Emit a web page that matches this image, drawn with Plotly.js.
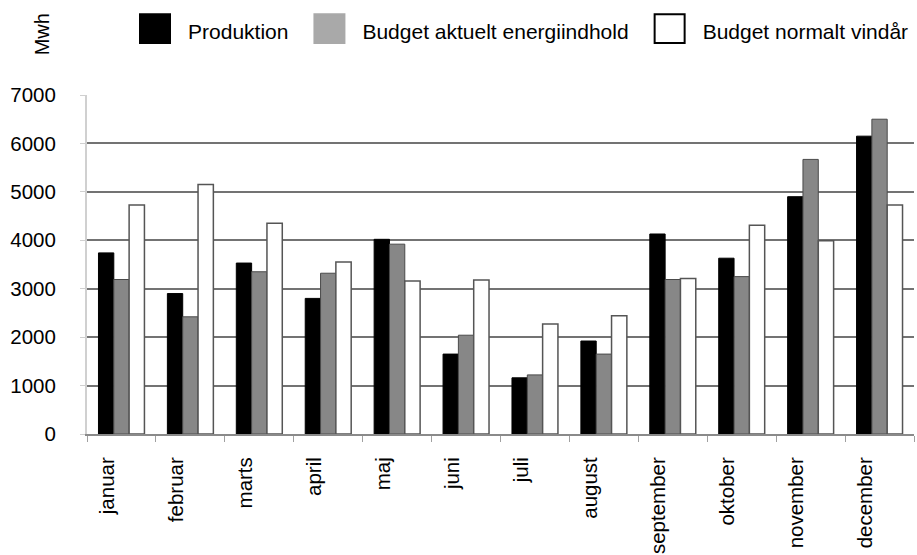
<!DOCTYPE html>
<html>
<head>
<meta charset="utf-8">
<script src="https://cdn.plot.ly/plotly-3.0.1.min.js"></script>
<style>html,body{margin:0;padding:0;background:#fff;}#chart{width:917px;height:555px;}</style>
</head>
<body>
<div id="chart"></div>
<script>
const months = ["januar","februar","marts","april","maj","juni","juli","august","september","oktober","november","december"];
const produktion = [3740, 2900, 3530, 2800, 4020, 1650, 1160, 1920, 4130, 3630, 4900, 6150];
const budgetAktuelt = [3190, 2420, 3350, 3320, 3920, 2040, 1220, 1650, 3190, 3250, 5670, 6500];
const budgetNormalt = [4730, 5150, 4350, 3550, 3160, 3180, 2270, 2440, 3210, 4310, 3990, 4730];
const seriesNames = ["Produktion", "Budget aktuelt energiindhold", "Budget normalt vindår"];
const yTicks = [0, 1000, 2000, 3000, 4000, 5000, 6000, 7000];

const FONT = "Liberation Sans, Arial, sans-serif";

const traces = [
  {type: "bar", x: months, y: produktion, name: seriesNames[0],
   marker: {color: "#000000", line: {color: "#000000", width: 1}}},
  {type: "bar", x: months, y: budgetAktuelt, name: seriesNames[1],
   marker: {color: "#878787", line: {color: "#4a4a4a", width: 1}}},
  {type: "bar", x: months, y: budgetNormalt, name: seriesNames[2],
   marker: {color: "#ffffff", line: {color: "#555555", width: 1.5}}}
];

const layout = {
  width: 917, height: 555,
  margin: {l: 87, r: 3, t: 95, b: 121, pad: 0, autoexpand: false},
  paper_bgcolor: "#ffffff", plot_bgcolor: "#ffffff",
  font: {family: FONT, color: "#000000", size: 20},
  barmode: "group", bargap: 0.333, bargroupgap: 0,
  showlegend: true,
  legend: {orientation: "h", xref: "container", x: 0.1298, xanchor: "left",
           yref: "container", y: 1 - 31 / 555, yanchor: "middle",
           font: {family: FONT, size: 21, color: "#000"}, itemwidth: 59,
           traceorder: "normal", bgcolor: "rgba(0,0,0,0)"},
  xaxis: {type: "category", range: [-0.5, 11.5], showgrid: false, zeroline: false,
          showline: true, linecolor: "#8a8a8a", linewidth: 2,
          ticks: "outside", tickson: "boundaries", ticklen: 6, tickcolor: "#a0a0a0", tickwidth: 1,
          tickangle: -90, tickfont: {family: FONT, size: 20.5, color: "#000"},
          ticklabelstandoff: 13, ticklabelshift: -14},
  yaxis: {range: [0, 7000], tickvals: yTicks, showgrid: true, gridcolor: "#737373", gridwidth: 2,
          zeroline: false, showline: true, linecolor: "#d0d0d0", linewidth: 2,
          ticks: "outside", ticklen: 5, tickcolor: "#d0d0d0",
          tickfont: {family: FONT, size: 20.5, color: "#000"}, ticklabelstandoff: 20},
  annotations: [{text: "Mwh", xref: "paper", yref: "paper", x: -0.054, y: 1.18,
                 xanchor: "center", yanchor: "middle", textangle: -90, showarrow: false,
                 font: {family: FONT, size: 20, color: "#000"}}]
};

Plotly.newPlot("chart", traces, layout, {staticPlot: true}).then(function () {
  // no gridline on the top edge (7000) in the original
  document.querySelectorAll(".gridlayer .y path, .gridlayer .ygrid").forEach(function (p) {
    const d = p.__data__;
    if (d && (d.x === 7000 || d.x === 0)) p.style.display = "none";
  });
  const fills = ["#000000", "#a9a9a9", "#ffffff"];
  const strokes = ["#000000", "#a9a9a9", "#000000"];
  document.querySelectorAll(".legend .traces").forEach(function (g, i) {
    const p = g.querySelector(".legendpoints path");
    if (!p) return;
    p.setAttribute("transform", "translate(36,-2) scale(2.5,2.4)");
    p.style.vectorEffect = "non-scaling-stroke";
    p.style.fill = fills[i];
    p.style.stroke = strokes[i];
    p.style.strokeWidth = "2px";
  });
});
</script>
</body>
</html>
